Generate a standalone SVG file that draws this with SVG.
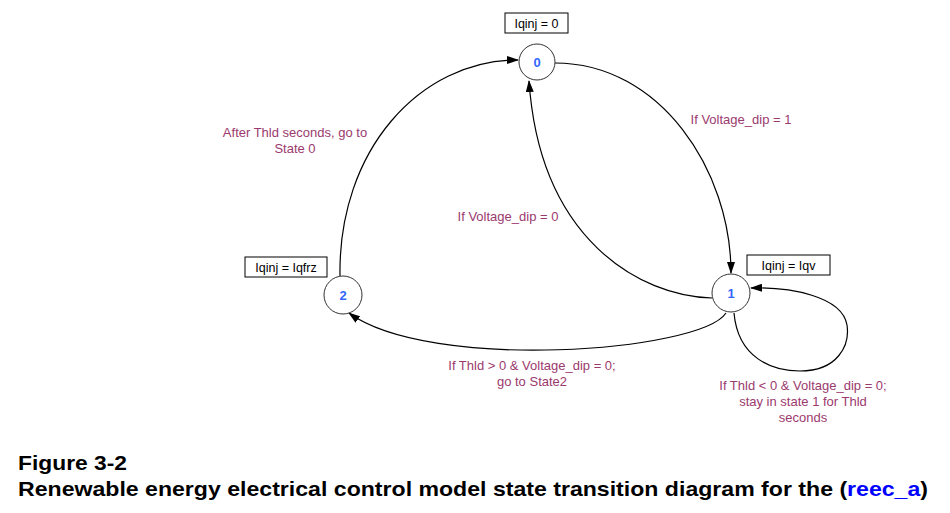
<svg xmlns="http://www.w3.org/2000/svg" width="950" height="513" viewBox="0 0 950 513">
<style>
.node{fill:#fff;stroke:#333;stroke-width:1}
.num{font-family:"Liberation Sans",Arial,sans-serif;font-size:13px;font-weight:bold;fill:#3366ff;text-anchor:middle}
.box{fill:#fff;stroke:#000;stroke-width:1}
.btxt{font-family:"Liberation Sans",Arial,sans-serif;font-size:12.5px;fill:#000;text-anchor:middle}
.lbl{font-family:"Liberation Sans",Arial,sans-serif;font-size:13px;fill:#9b3a6e;text-anchor:middle}
.edge{fill:none;stroke:#000;stroke-width:1.2;marker-end:url(#arr)}
.cap{font-family:"Liberation Sans",Arial,sans-serif;font-size:21px;font-weight:bold;fill:#000}
</style>
<defs>
<marker id="arr" markerWidth="12" markerHeight="8" refX="11" refY="4" orient="auto" markerUnits="userSpaceOnUse">
<path d="M0,0 L12,4 L0,8 Z" fill="#000"/>
</marker>
</defs>
<rect width="950" height="513" fill="#fff"/>
<g id="connectors">
<path class="edge" d="M340,276 C338,150 420,60 518,60"/>
<path class="edge" d="M555,63 C660,63 731,170 731,273"/>
<path class="edge" d="M712,298 C640,296 540,240 529,81"/>
<path class="edge" d="M726,313 C700,352 430,372 349,313"/>
<path class="edge" d="M734,313 C738,358 772,371 800,371 C838,371 850,345 847,325 C842,296 790,287 751,288"/>
</g>
<g id="node0">
<rect class="box" x="505" y="13" width="63" height="20"/>
<text class="btxt" x="536.5" y="27.5">Iqinj = 0</text>
<circle class="node" cx="537" cy="62" r="18"/>
<text class="num" x="537" y="66.5">0</text>
</g>
<g id="node1">
<rect class="box" x="747" y="255" width="83" height="20"/>
<text class="btxt" x="788.5" y="269.5">Iqinj = Iqv</text>
<circle class="node" cx="731" cy="293" r="19"/>
<text class="num" x="731" y="297.5">1</text>
</g>
<g id="node2">
<rect class="box" x="245" y="257" width="82" height="20"/>
<text class="btxt" x="286" y="271.5">Iqinj = Iqfrz</text>
<circle class="node" cx="343" cy="295" r="19"/>
<text class="num" x="343" y="299.5">2</text>
</g>
<g id="labels">
<text class="lbl" x="295" y="137">After Thld seconds, go to</text>
<text class="lbl" x="295" y="153">State 0</text>
<text class="lbl" x="741" y="124">If Voltage_dip = 1</text>
<text class="lbl" x="508" y="221">If Voltage_dip = 0</text>
<text class="lbl" x="532" y="370">If Thld &gt; 0 &amp; Voltage_dip = 0;</text>
<text class="lbl" x="532" y="386">go to State2</text>
<text class="lbl" x="803" y="390">If Thld &lt; 0 &amp; Voltage_dip = 0;</text>
<text class="lbl" x="803" y="406">stay in state 1 for Thld</text>
<text class="lbl" x="803" y="422">seconds</text>
</g>
<text class="cap" x="18" y="470" textLength="109" lengthAdjust="spacingAndGlyphs">Figure 3-2</text>
<text class="cap" x="18" y="496" textLength="910" lengthAdjust="spacingAndGlyphs">Renewable energy electrical control model state transition diagram for the (<tspan fill="#0000ff">reec_a</tspan>)</text>
</svg>
